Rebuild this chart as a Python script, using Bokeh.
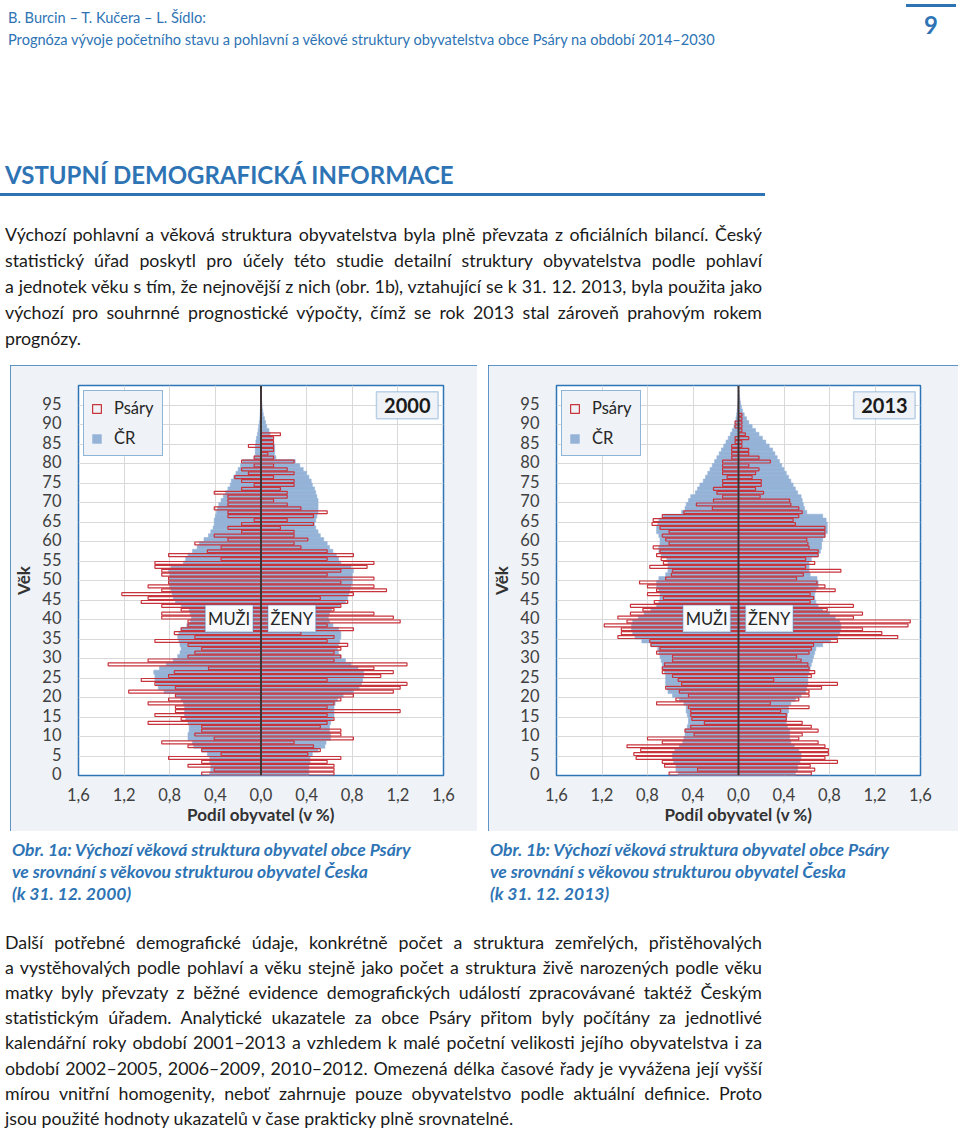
from bokeh.plotting import figure
from bokeh.models import (ColumnDataSource, FixedTicker, CustomJSTickFormatter, Span,
                          BoxAnnotation, Label, Legend, LegendItem, Div, Spacer)
from bokeh.layouts import column, row
from bokeh.embed import file_html
from bokeh.resources import INLINE

# ---------------- data ----------------
AGES = list(range(100))
X_TICKS = [-1.6, -1.2, -0.8, -0.4, 0.0, 0.4, 0.8, 1.2, 1.6]
Y_TICKS = list(range(0, 100, 5))

PSARY_M_2000 = [0.52, 0.41, 0.64, 0.52, 0.81, 0.35, 0.52, 0.64, 0.87, 0.41,
                0.58, 0.52, 0.52, 0.99, 0.70, 0.93, 0.75, 0.75, 0.99, 0.81,
                0.75, 1.16, 0.75, 0.93, 1.05, 0.81, 0.76, 0.46, 1.34, 0.99,
                0.64, 0.58, 0.52, 0.64, 0.93, 0.58, 0.76, 0.70, 0.64, 0.64,
                0.87, 0.87, 0.70, 0.87, 1.05, 0.99, 1.22, 0.87, 0.99, 0.81,
                0.81, 0.87, 0.87, 0.93, 0.93, 0.35, 0.81, 0.47, 0.35, 0.58,
                0.29, 0.41, 0.17, 0.29, 0.17, 0.06, 0.29, 0.29, 0.41, 0.29,
                0.29, 0.29, 0.41, 0.17, 0.06, 0.17, 0.23, 0.11, 0.17, 0.06,
                0.17, 0.06, 0, 0, 0.11, 0, 0, 0, 0, 0,
                0, 0, 0, 0, 0, 0, 0, 0, 0, 0]
PSARY_F_2000 = [0.64, 0.64, 0.64, 0.58, 0.70, 0.41, 0.52, 0.46, 0.29, 0.81,
                0.70, 0.70, 0.52, 0.58, 0.64, 0.58, 1.22, 0.58, 0.64, 0.70,
                0.81, 1.16, 1.22, 1.28, 0.58, 1.05, 1.16, 0.99, 1.28, 0.64,
                0.70, 0.64, 0.70, 0.76, 0.58, 0.64, 0.35, 0.81, 0.58, 1.22,
                1.16, 0.99, 0.64, 0.70, 0.76, 0.52, 0.81, 1.10, 0.99, 0.70,
                0.99, 0.58, 0.70, 0.93, 0.99, 0.58, 0.81, 0.58, 0.35, 0.29,
                0.41, 0.29, 0.29, 0.17, 0.46, 0.23, 0.46, 0.58, 0.35, 0.23,
                0.11, 0.23, 0.23, 0.17, 0.29, 0.29, 0.11, 0.29, 0.23, 0.11,
                0.29, 0.11, 0.06, 0.11, 0.11, 0.11, 0.11, 0.17, 0, 0,
                0, 0, 0, 0, 0, 0, 0, 0, 0, 0]
CR_M_2000 = [0.45, 0.44, 0.44, 0.45, 0.45, 0.47, 0.52, 0.59, 0.60, 0.64,
             0.64, 0.63, 0.63, 0.64, 0.66, 0.67, 0.67, 0.67, 0.68, 0.70,
             0.75, 0.85, 0.90, 0.92, 0.93, 0.93, 0.94, 0.89, 0.83, 0.77,
             0.73, 0.71, 0.70, 0.71, 0.72, 0.73, 0.72, 0.70, 0.65, 0.62,
             0.61, 0.62, 0.63, 0.70, 0.75, 0.77, 0.78, 0.79, 0.80, 0.80,
             0.80, 0.80, 0.81, 0.79, 0.68, 0.66, 0.64, 0.60, 0.56, 0.54,
             0.50, 0.46, 0.44, 0.42, 0.41, 0.41, 0.40, 0.39, 0.38, 0.37,
             0.35, 0.33, 0.31, 0.29, 0.27, 0.26, 0.24, 0.22, 0.20, 0.18,
             0.16, 0.06, 0.05, 0.05, 0.05, 0.045, 0.04, 0.03, 0.025, 0.02,
             0.015, 0.01, 0.008, 0.006, 0.004, 0.003, 0.002, 0.001, 0.001, 0.0005]
CR_F_2000 = [0.42, 0.42, 0.42, 0.43, 0.43, 0.45, 0.50, 0.56, 0.57, 0.61,
             0.61, 0.60, 0.60, 0.61, 0.63, 0.64, 0.64, 0.64, 0.65, 0.67,
             0.72, 0.81, 0.86, 0.88, 0.89, 0.90, 0.90, 0.85, 0.79, 0.74,
             0.70, 0.68, 0.67, 0.68, 0.69, 0.70, 0.70, 0.68, 0.63, 0.60,
             0.59, 0.60, 0.62, 0.69, 0.74, 0.76, 0.77, 0.78, 0.79, 0.80,
             0.80, 0.80, 0.81, 0.79, 0.70, 0.68, 0.66, 0.63, 0.60, 0.58,
             0.55, 0.52, 0.50, 0.48, 0.47, 0.48, 0.49, 0.50, 0.50, 0.50,
             0.50, 0.49, 0.48, 0.47, 0.45, 0.44, 0.42, 0.40, 0.37, 0.34,
             0.30, 0.13, 0.12, 0.12, 0.12, 0.11, 0.10, 0.08, 0.07, 0.05,
             0.04, 0.03, 0.02, 0.015, 0.01, 0.007, 0.005, 0.003, 0.002, 0.001]

PSARY_M_2013 = [0.61, 0.36, 0.65, 0.67, 0.90, 0.92, 0.86, 0.98, 0.67, 0.80,
                0.39, 0.47, 0.42, 0.30, 0.41, 0.42, 0.42, 0.44, 0.72, 0.55,
                0.44, 0.52, 0.64, 0.50, 0.53, 0.58, 0.67, 0.67, 0.65, 0.58,
                0.58, 0.72, 0.69, 0.77, 0.78, 1.06, 1.03, 1.03, 1.18, 0.98,
                1.06, 0.95, 0.84, 0.95, 0.74, 0.66, 0.80, 0.72, 0.80, 0.87,
                0.64, 0.59, 0.58, 0.78, 0.66, 0.68, 0.72, 0.69, 0.75, 0.61,
                0.64, 0.67, 0.61, 0.69, 0.76, 0.75, 0.67, 0.48, 0.23, 0.37,
                0.22, 0.14, 0.19, 0.22, 0.14, 0.14, 0.10, 0.14, 0.14, 0.14,
                0.14, 0.06, 0.06, 0.06, 0.06, 0.03, 0.03, 0, 0, 0.03,
                0.03, 0, 0, 0, 0, 0, 0, 0, 0, 0]
PSARY_F_2013 = [0.64, 0.67, 0.63, 0.87, 0.76, 0.79, 0.79, 0.76, 0.70, 0.53,
                0.56, 0.70, 0.64, 0.56, 0.42, 0.42, 0.37, 0.62, 0.28, 0.53,
                0.62, 0.62, 0.73, 0.87, 0.31, 0.64, 0.67, 0.62, 0.61, 0.55,
                0.51, 0.62, 0.64, 0.66, 0.87, 1.40, 1.26, 1.09, 1.49, 1.51,
                1.01, 1.09, 0.78, 1.01, 0.63, 0.66, 0.63, 0.85, 0.76, 0.69,
                0.51, 0.57, 0.90, 0.59, 0.67, 0.59, 0.70, 0.70, 0.62, 0.61,
                0.60, 0.76, 0.76, 0.76, 0.50, 0.48, 0.53, 0.56, 0.53, 0.46,
                0.45, 0.19, 0.22, 0.15, 0.20, 0.20, 0.12, 0.15, 0.18, 0.09,
                0.28, 0.18, 0.09, 0.09, 0.03, 0.03, 0.09, 0.06, 0.03, 0.03,
                0.03, 0.03, 0.03, 0, 0, 0, 0, 0, 0, 0]
CR_M_2013 = [0.53, 0.55, 0.55, 0.57, 0.58, 0.58, 0.56, 0.52, 0.49, 0.48,
             0.47, 0.47, 0.45, 0.44, 0.44, 0.45, 0.46, 0.46, 0.48, 0.52,
             0.58, 0.62, 0.63, 0.64, 0.64, 0.64, 0.65, 0.67, 0.67, 0.68,
             0.69, 0.70, 0.71, 0.77, 0.85, 0.91, 0.93, 0.94, 0.94, 0.93,
             0.88, 0.83, 0.77, 0.72, 0.70, 0.69, 0.69, 0.70, 0.72, 0.72,
             0.70, 0.64, 0.62, 0.62, 0.62, 0.63, 0.68, 0.70, 0.70, 0.69,
             0.69, 0.70, 0.72, 0.72, 0.71, 0.70, 0.66, 0.50, 0.47, 0.46,
             0.44, 0.42, 0.38, 0.36, 0.34, 0.31, 0.29, 0.27, 0.25, 0.23,
             0.21, 0.19, 0.17, 0.15, 0.13, 0.11, 0.09, 0.07, 0.055, 0.04,
             0.03, 0.022, 0.016, 0.012, 0.008, 0.006, 0.004, 0.003, 0.002, 0.001]
CR_F_2013 = [0.50, 0.52, 0.52, 0.54, 0.55, 0.55, 0.53, 0.49, 0.46, 0.45,
             0.45, 0.45, 0.43, 0.42, 0.42, 0.43, 0.44, 0.44, 0.46, 0.50,
             0.55, 0.59, 0.60, 0.61, 0.61, 0.61, 0.62, 0.63, 0.64, 0.65,
             0.66, 0.67, 0.68, 0.74, 0.81, 0.87, 0.89, 0.90, 0.90, 0.89,
             0.85, 0.80, 0.74, 0.70, 0.68, 0.67, 0.67, 0.68, 0.70, 0.70,
             0.69, 0.63, 0.62, 0.62, 0.62, 0.64, 0.70, 0.72, 0.73, 0.73,
             0.74, 0.76, 0.78, 0.78, 0.78, 0.77, 0.74, 0.60, 0.58, 0.57,
             0.56, 0.55, 0.52, 0.50, 0.48, 0.46, 0.44, 0.42, 0.40, 0.38,
             0.36, 0.34, 0.32, 0.30, 0.27, 0.24, 0.21, 0.18, 0.15, 0.12,
             0.09, 0.07, 0.05, 0.035, 0.025, 0.018, 0.012, 0.008, 0.005, 0.003]

# ---------------- styles ----------------
BLUE_BAR = "#95B3D7"
RED = "#C8343C"
FRAME_BLUE = "#2E75B6"
TXT_BLUE = "#2E74B5"
BG = "#EFF2F7"
FONT = "Lato"


def pyramid(width, left_border, right_border, year, pm, pf, cm, cf):
    p = figure(width=width, height=466, x_range=(-1.6, 1.6), y_range=(-0.5, 99.5),
               output_backend="svg", toolbar_location=None,
               min_border_left=left_border, min_border_right=right_border,
               min_border_top=20, min_border_bottom=56,
               background_fill_color="white", border_fill_color=BG,
               outline_line_color=FRAME_BLUE, outline_line_width=1.5,
               x_axis_label="Podíl obyvatel (v %)", y_axis_label="Věk")
    p.styles = {"outline": "1.5px solid " + FRAME_BLUE, "outline-offset": "-1.5px"}

    src = ColumnDataSource(dict(age=AGES,
                                pm=[-v for v in pm], pf=pf,
                                cm=[-v for v in cm], cf=cf))
    r_cm = p.hbar(y="age", left="cm", right=0, height=1.0, source=src,
                  fill_color=BLUE_BAR, line_color=BLUE_BAR, line_width=0.6)
    p.hbar(y="age", left=0, right="cf", height=1.0, source=src,
           fill_color=BLUE_BAR, line_color=BLUE_BAR, line_width=0.6)
    r_pm = p.hbar(y="age", left="pm", right=0, height=0.75, source=src,
                  fill_color=None, line_color=RED, line_width=1.2)
    p.hbar(y="age", left=0, right="pf", height=0.75, source=src,
           fill_color=None, line_color=RED, line_width=1.2)

    ticker = FixedTicker(ticks=X_TICKS)
    p.xaxis.ticker = ticker
    p.xaxis.formatter = CustomJSTickFormatter(
        code="return Math.abs(tick).toFixed(1).replace('.', ',');")
    p.yaxis.ticker = FixedTicker(ticks=Y_TICKS)
    p.xgrid.ticker = ticker
    p.ygrid.ticker = FixedTicker(ticks=[t - 0.5 for t in Y_TICKS[1:]])
    for g in (p.xgrid[0], p.ygrid[0]):
        g.grid_line_color = "#D9D9D9"
        g.grid_line_width = 1

    for ax in (p.xaxis[0], p.yaxis[0]):
        ax.axis_line_color = None
        ax.major_tick_line_color = None
        ax.minor_tick_line_color = None
        ax.major_tick_out = 0
        ax.major_tick_in = 0
        ax.major_label_text_font = FONT
        ax.major_label_text_font_size = "16.5px"
        ax.major_label_text_color = "#404040"
        ax.axis_label_text_font = FONT
        ax.axis_label_text_font_style = "bold"
        ax.axis_label_text_font_size = "17px"
        ax.axis_label_text_color = "#333333"
    p.xaxis.major_label_standoff = 12
    p.xaxis.axis_label_standoff = 0
    p.yaxis.major_label_standoff = 17
    p.yaxis.axis_label_standoff = 5

    p.add_layout(Span(location=0, dimension="height", line_color="#333333", line_width=1.8))

    # year box
    p.add_layout(BoxAnnotation(left=1.012, right=1.553, bottom=91.0, top=97.9,
                               fill_color=BG, fill_alpha=1, line_color=FRAME_BLUE, line_width=1.5))
    p.add_layout(Label(x=1.2825, y=94.45, text=year, text_align="center", text_baseline="middle",
                       text_font=FONT, text_font_style="bold", text_font_size="20px",
                       text_color="#1a1a1a"))
    # MUŽI / ŽENY boxes
    p.add_layout(BoxAnnotation(left=-0.489, right=-0.07, bottom=36.3, top=43.2,
                               fill_color="#F7F9FC", fill_alpha=1, line_color=FRAME_BLUE, line_width=1.5))
    p.add_layout(BoxAnnotation(left=0.061, right=0.48, bottom=36.3, top=43.2,
                               fill_color="#F7F9FC", fill_alpha=1, line_color=FRAME_BLUE, line_width=1.5))
    p.add_layout(Label(x=-0.28, y=39.75, text="MUŽI", text_align="center", text_baseline="middle",
                       text_font=FONT, text_font_size="16.5px", text_color="#262626"))
    p.add_layout(Label(x=0.27, y=39.75, text="ŽENY", text_align="center", text_baseline="middle",
                       text_font=FONT, text_font_size="16.5px", text_color="#262626"))

    legend = Legend(items=[LegendItem(label="Psáry", renderers=[r_pm]),
                           LegendItem(label="ČR", renderers=[r_cm])],
                    location="top_left", margin=5, padding=7, spacing=10,
                    glyph_width=11, glyph_height=11, label_height=16, label_width=41,
                    label_standoff=12, label_text_font=FONT, label_text_font_size="16.5px",
                    label_text_color="#262626", border_line_color=FRAME_BLUE,
                    border_line_width=1.5, background_fill_color=BG, background_fill_alpha=1.0)
    p.add_layout(legend)
    return p


fig1 = pyramid(467, 67, 34, "2000", PSARY_M_2000, PSARY_F_2000, CR_M_2000, CR_F_2000)
fig2 = pyramid(470, 66, 38, "2013", PSARY_M_2013, PSARY_F_2013, CR_M_2013, CR_F_2013)

# ---------------- page text ----------------
PARA1 = ["Výchozí pohlavní a věková struktura obyvatelstva byla plně převzata z oficiálních bilancí. Český",
         "statistický úřad poskytl pro účely této studie detailní struktury obyvatelstva podle pohlaví",
         "a jednotek věku s tím, že nejnovější z nich (obr. 1b), vztahující se k 31. 12. 2013, byla použita jako",
         "výchozí pro souhrnné prognostické výpočty, čímž se rok 2013 stal zároveň prahovým rokem",
         "prognózy."]
PARA2 = ["Další potřebné demografické údaje, konkrétně počet a struktura zemřelých, přistěhovalých",
         "a vystěhovalých podle pohlaví a věku stejně jako počet a struktura živě narozených podle věku",
         "matky byly převzaty z běžné evidence demografických událostí zpracovávané taktéž Českým",
         "statistickým úřadem. Analytické ukazatele za obce Psáry přitom byly počítány za jednotlivé",
         "kalendářní roky období 2001–2013 a vzhledem k malé početní velikosti jejího obyvatelstva i za",
         "období 2002–2005, 2006–2009, 2010–2012. Omezená délka časové řady je vyvážena její vyšší",
         "mírou vnitřní homogenity, neboť zahrnuje pouze obyvatelstvo podle aktuální definice. Proto",
         "jsou použité hodnoty ukazatelů v čase prakticky plně srovnatelné."]
CAP_A = ["Obr. 1a: Výchozí věková struktura obyvatel obce Psáry",
         "ve srovnání s věkovou strukturou obyvatel Česka", "(k 31. 12. 2000)"]
CAP_B = ["Obr. 1b: Výchozí věková struktura obyvatel obce Psáry",
         "ve srovnání s věkovou strukturou obyvatel Česka", "(k 31. 12. 2013)"]


def tline(text, left, center, size, lh=24, width=None, weight="normal", style="normal",
          color="#1a1a1a", justify=False, align="left"):
    top = center - lh / 2
    w = f"width:{width}px;" if width else ""
    just = "text-align:justify;text-align-last:justify;" if justify else f"text-align:{align};"
    return (f'<div style="position:absolute;left:{left}px;top:{top:.1f}px;{w}'
            f'line-height:{lh}px;font-family:{FONT};font-size:{size}px;font-weight:{weight};'
            f'font-style:{style};color:{color};white-space:nowrap;{just}">{text}</div>')


def box(left, top, width, height, color):
    return (f'<div style="position:absolute;left:{left}px;top:{top}px;width:{width}px;'
            f'height:{height}px;background:{color};"></div>')


TOP_H = 365
BOT_H = 299
BODY_SIZE = 17.8

top_parts = [
    tline("B. Burcin – T. Kučera – L. Šídlo:", 8, 18, 14.6, lh=20, color=TXT_BLUE),
    tline("Prognóza vývoje početního stavu a pohlavní a věkové struktury obyvatelstva obce Psáry na období 2014–2030",
          8, 40, 14.6, lh=20, color=TXT_BLUE),
    box(906, 4, 50, 3, TXT_BLUE),
    tline("9", 906, 25, 24, lh=28, width=50, weight="bold", color=TXT_BLUE, align="center"),
    tline("VSTUPNÍ DEMOGRAFICKÁ INFORMACE", 5, 175, 24, lh=30, weight="bold", color=TXT_BLUE),
    box(0, 193, 765, 3, TXT_BLUE),
]
for i, ln in enumerate(PARA1):
    top_parts.append(tline(ln, 5, 234 + 26 * i, BODY_SIZE, lh=26, width=757,
                           justify=(i < len(PARA1) - 1)))
top_html = (f'<div style="position:relative;width:960px;height:{TOP_H}px;overflow:hidden;">'
            + "".join(top_parts) + "</div>")

OFF = TOP_H + 466
bot_parts = []
for i, ln in enumerate(CAP_A):
    bot_parts.append(tline(ln, 12, 850 - OFF + 22 * i, 17.5, lh=22, weight="bold", style="italic",
                           color=TXT_BLUE))
for i, ln in enumerate(CAP_B):
    bot_parts.append(tline(ln, 490, 850 - OFF + 22 * i, 17.5, lh=22, weight="bold", style="italic",
                           color=TXT_BLUE))
for i, ln in enumerate(PARA2):
    bot_parts.append(tline(ln, 5, 942 - OFF + 25.1 * i, BODY_SIZE, lh=24, width=757,
                           justify=(i < len(PARA2) - 1)))
bot_html = (f'<div style="position:relative;width:960px;height:{BOT_H}px;overflow:hidden;">'
            + "".join(bot_parts) + "</div>")

top_div = Div(text=top_html, width=960, height=TOP_H, margin=0)
bot_div = Div(text=bot_html, width=960, height=BOT_H, margin=0)

charts = row(Spacer(width=10, height=466), fig1, Spacer(width=11, height=466), fig2,
             Spacer(width=2, height=466))
p = column(top_div, charts, bot_div)

open("out.html", "w", encoding="utf-8").write(file_html(p, INLINE))
